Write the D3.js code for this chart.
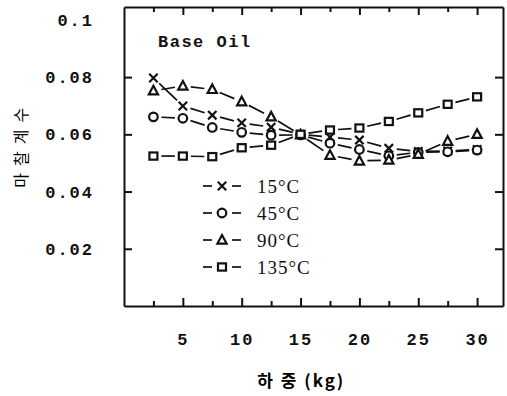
<!DOCTYPE html>
<html>
<head>
<meta charset="utf-8">
<script src="https://cdn.jsdelivr.net/npm/d3@7"></script>
<style>
  html, body { margin: 0; padding: 0; background: #fff; }
  svg { display: block; }
  .tick text { font-family: "Liberation Mono", monospace; font-weight: bold; font-size: 17px; fill: #111; letter-spacing: 2px; }
  .domain { stroke: #111; stroke-width: 2; }
  .tick line { stroke: #111; stroke-width: 2; }
</style>
</head>
<body>
<svg id="chart" width="507" height="396"></svg>
<script>
// Friction coefficient of the base oil versus applied load, at four temperatures
const loads = [2.5, 5, 7.5, 10, 12.5, 15, 17.5, 20, 22.5, 25, 27.5, 30];
const mu15  = [0.0797, 0.0699, 0.0667, 0.0640, 0.0625, 0.0600, 0.0590, 0.0580, 0.0551, 0.0540, 0.0542, 0.0547];
const mu45  = [0.0661, 0.0656, 0.0624, 0.0607, 0.0597, 0.0598, 0.0569, 0.0547, 0.0525, 0.0537, 0.0539, 0.0545];
const mu90  = [0.0752, 0.0769, 0.0757, 0.0714, 0.0661, 0.0598, 0.0527, 0.0507, 0.0510, 0.0530, 0.0576, 0.0600];
const mu135 = [0.0524, 0.0524, 0.0522, 0.0553, 0.0562, 0.0600, 0.0615, 0.0622, 0.0645, 0.0675, 0.0705, 0.0731];
const seriesLabels = ["15°C", "45°C", "90°C", "135°C"];
const seriesShapes = ["cross", "circle", "triangle", "square"];
const xMajorTicks = [5, 10, 15, 20, 25, 30];
const xMinorTicks = [2.5, 7.5, 12.5, 17.5, 22.5, 27.5];
const yTicks = [0.02, 0.04, 0.06, 0.08, 0.1];
const yTickLabels = ["0.02", "0.04", "0.06", "0.08", "0.1"];

const svg = d3.select("#chart");
const x = d3.scaleLinear().domain([0, 32.2]).range([124, 503]);
const y = d3.scaleLinear().domain([0, 0.1045]).range([306, 7]);

// frame with inward ticks on all four sides
svg.append("g").attr("transform", `translate(0,${y(0)})`)
  .call(d3.axisBottom(x).tickValues(xMajorTicks).tickSizeInner(-8).tickSizeOuter(0).tickPadding(27).tickFormat(d3.format("d")));
svg.append("g").attr("transform", `translate(0,${y(0)})`)
  .call(d3.axisBottom(x).tickValues(xMinorTicks).tickSizeInner(-5).tickSizeOuter(0).tickFormat(""))
  .select(".domain").remove();
svg.append("g").attr("transform", `translate(0,${y.range()[1]})`)
  .call(d3.axisTop(x).tickValues(xMajorTicks).tickSizeInner(-8).tickSizeOuter(0).tickFormat(""));
svg.append("g").attr("transform", `translate(0,${y.range()[1]})`)
  .call(d3.axisTop(x).tickValues(xMinorTicks).tickSizeInner(-5).tickSizeOuter(0).tickFormat(""))
  .select(".domain").remove();
svg.append("g").attr("transform", `translate(${x.range()[0]},0)`)
  .call(d3.axisLeft(y).tickValues(yTicks).tickSizeInner(-8).tickSizeOuter(0).tickPadding(30)
    .tickFormat((d, i) => yTickLabels[i]))
  .call(g => g.selectAll(".tick").filter(d => d === 0.1).select("line").remove());
svg.append("g").attr("transform", `translate(${x.range()[1]},0)`)
  .call(d3.axisRight(y).tickValues(yTicks.slice(0, 4)).tickSizeInner(-8).tickSizeOuter(0).tickFormat(""));

// axis titles
svg.append("text")
  .attr("transform", `translate(27,${(y(0.04) + y(0.08)) / 2 + 10}) rotate(-90)`)
  .attr("text-anchor", "middle")
  .style("font-family", "'Noto Sans CJK KR', sans-serif")
  .style("font-size", "16px")
  .style("letter-spacing", "7px")
  .style("fill", "#000")
  .text("마찰계수");
svg.append("text")
  .attr("x", (x(15) + x(17.5)) / 2 - 14).attr("y", 387)
  .attr("text-anchor", "middle")
  .style("font-family", "'Noto Sans CJK KR', sans-serif")
  .style("font-weight", "bold")
  .style("font-size", "17px")
  .style("letter-spacing", "2px")
  .style("fill", "#000")
  .text("하 중 (kg)");

svg.append("text")
  .attr("x", 158).attr("y", 47)
  .style("font-family", "'Liberation Mono', monospace")
  .style("font-weight", "bold")
  .style("font-size", "17px")
  .style("letter-spacing", "1.5px")
  .style("fill", "#111")
  .text("Base Oil");

// marker drawing
function drawMarker(g, shape, cx, cy) {
  const s = 4.2;
  if (shape === "cross") {
    g.append("path").attr("d", `M${cx - s},${cy - s}L${cx + s},${cy + s}M${cx - s},${cy + s}L${cx + s},${cy - s}`)
      .attr("stroke", "#111").attr("stroke-width", 2.2).attr("fill", "none");
  } else if (shape === "circle") {
    g.append("circle").attr("cx", cx).attr("cy", cy).attr("r", 4.3)
      .attr("stroke", "#111").attr("stroke-width", 2.2).attr("fill", "#fff");
  } else if (shape === "triangle") {
    g.append("path").attr("d", `M${cx},${cy - 5}L${cx + 4.6},${cy + 3.6}L${cx - 4.6},${cy + 3.6}Z`)
      .attr("stroke", "#111").attr("stroke-width", 2.2).attr("fill", "#fff").attr("stroke-linejoin", "miter");
  } else {
    g.append("rect").attr("x", cx - 4).attr("y", cy - 3.6).attr("width", 8).attr("height", 7.2)
      .attr("stroke", "#111").attr("stroke-width", 2.2).attr("fill", "#fff");
  }
}

const series = [mu15, mu45, mu90, mu135];
const gap = 8;
series.forEach((vals, si) => {
  const g = svg.append("g");
  const pts = loads.map((l, i) => [x(l), y(vals[i])]);
  // broken connecting segments between consecutive points
  for (let i = 0; i < pts.length - 1; i++) {
    const [x1, y1] = pts[i], [x2, y2] = pts[i + 1];
    const len = Math.hypot(x2 - x1, y2 - y1);
    if (len <= 2 * gap) continue;
    const ux = (x2 - x1) / len, uy = (y2 - y1) / len;
    g.append("line")
      .attr("x1", x1 + ux * gap).attr("y1", y1 + uy * gap)
      .attr("x2", x2 - ux * gap).attr("y2", y2 - uy * gap)
      .attr("stroke", "#111").attr("stroke-width", 1.7);
  }
  pts.forEach(([px, py]) => drawMarker(g, seriesShapes[si], px, py));
});

// legend
const legendRows = [186, 213, 240, 267];
seriesLabels.forEach((lab, i) => {
  const g = svg.append("g");
  const cy = legendRows[i];
  g.append("line").attr("x1", 203).attr("x2", 212).attr("y1", cy).attr("y2", cy).attr("stroke", "#111").attr("stroke-width", 1.7);
  g.append("line").attr("x1", 232).attr("x2", 241).attr("y1", cy).attr("y2", cy).attr("stroke", "#111").attr("stroke-width", 1.7);
  drawMarker(g, seriesShapes[i], 222, cy);
  g.append("text").attr("x", 257).attr("y", cy + 7)
    .style("font-family", "'Liberation Serif', serif")
    .style("font-size", "19px")
    .style("letter-spacing", "1px")
    .style("fill", "#111")
    .text(lab);
});
</script>
</body>
</html>
